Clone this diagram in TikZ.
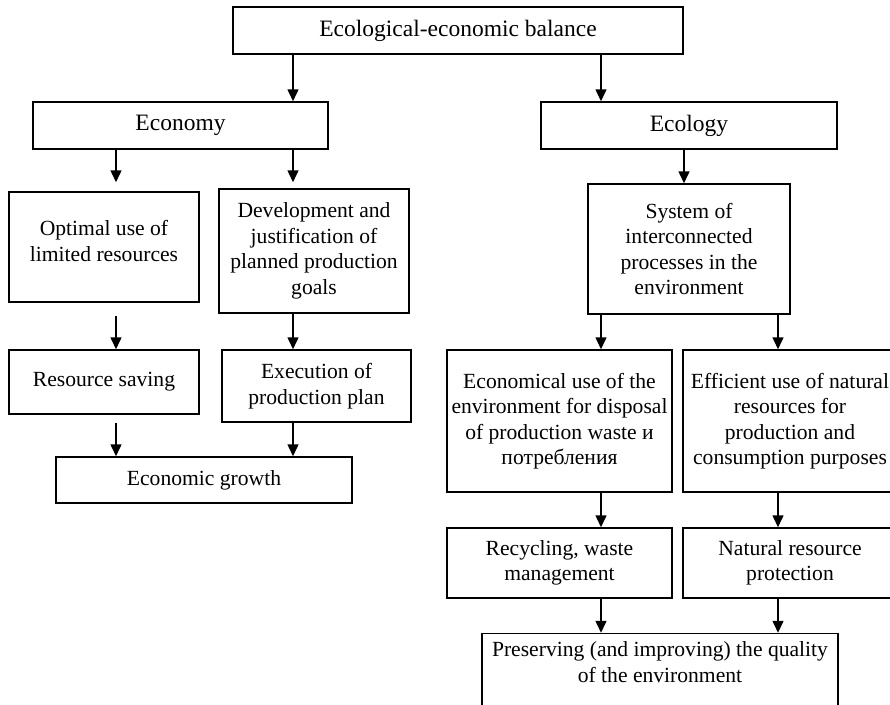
\documentclass[tikz,border=0pt]{standalone}
\usepackage{fontspec}
\setmainfont{Liberation Serif}
\usetikzlibrary{arrows.meta}
\begin{document}
\begin{tikzpicture}[x=1pt,y=-1pt,
  box/.style={draw,line width=1.5pt,align=center,inner sep=2pt,font=\fontsize{21.6}{25.5}\selectfont},
  head/.style={box,minimum height=47pt,font=\fontsize{23.5}{27}\selectfont},
  toptext/.style={anchor=north,align=center,inner sep=0pt,font=\fontsize{21.6}{25.5}\selectfont},
  arr/.style={-{Triangle[length=12pt,width=11pt]},line width=1.5pt}]
\useasboundingbox (0,0) rectangle (890,704);
\clip (0,0) rectangle (890,704);
% top level
\node[head,minimum width=450pt] (balance) at (458,30.5) {Ecological-economic balance};
\node[head,minimum width=295pt] (economy) at (180.5,125.5) {Economy};
\node[head,minimum width=296pt] (ecology) at (689,125.5) {Ecology};
% economy branch
\node[box,minimum width=190pt,minimum height=110pt,label={[toptext,yshift=-29pt]north:{Optimal use of\\limited resources}}] (optimal) at (104,247) {};
\node[box,minimum width=190pt,minimum height=124pt] (planning) at (314,251) {Development and\\justification of\\planned production\\goals};
\node[box,minimum width=190pt,minimum height=64pt] (saving) at (104,382) {Resource saving};
\node[box,minimum width=189pt,minimum height=72pt] (execution) at (316.5,386) {Execution of\\production plan};
\node[box,minimum width=296pt,minimum height=46pt] (growth) at (204,480) {Economic growth};
% ecology branch
\node[box,minimum width=202pt,minimum height=130pt] (system) at (689,249) {System of\\interconnected\\processes in the\\environment};
\node[box,minimum width=225pt,minimum height=142pt] (disposal) at (559.5,421) {Economical use of the\\environment for disposal\\of production waste и\\потребления};
\node[box,minimum width=214pt,minimum height=142pt] (natural) at (790,421) {Efficient use of natural\\resources for\\production and\\consumption purposes};
\node[box,minimum width=225pt,minimum height=70pt] (recycling) at (559.5,563) {Recycling, waste\\management};
\node[box,minimum width=214pt,minimum height=70pt] (protection) at (790,563) {Natural resource\\protection};
\node[box,minimum width=356pt,minimum height=110pt,label={[toptext,yshift=-9pt]north:{Preserving (and improving) the quality\\of the environment}}] (quality) at (660,688.5) {};
% arrows
\draw[arr] (293,0 |- balance.south) -- (293,0 |- economy.north);
\draw[arr] (601,0 |- balance.south) -- (601,0 |- ecology.north);
\draw[arr,shorten >=9pt] (116,0 |- economy.south) -- (116,0 |- optimal.north);
\draw[arr,shorten >=6pt] (293,0 |- economy.south) -- (293,0 |- planning.north);
\draw[arr,shorten <=13pt] (116,0 |- optimal.south) -- (116,0 |- saving.north);
\draw[arr] (293,0 |- planning.south) -- (293,0 |- execution.north);
\draw[arr,shorten <=8pt] (116,0 |- saving.south) -- (116,0 |- growth.north);
\draw[arr] (293,0 |- execution.south) -- (293,0 |- growth.north);
\draw[arr] (684,0 |- ecology.south) -- (684,0 |- system.north);
\draw[arr] (601,0 |- system.south) -- (601,0 |- disposal.north);
\draw[arr] (778,0 |- system.south) -- (778,0 |- natural.north);
\draw[arr] (601,0 |- disposal.south) -- (601,0 |- recycling.north);
\draw[arr] (778,0 |- natural.south) -- (778,0 |- protection.north);
\draw[arr] (601,0 |- recycling.south) -- (601,0 |- quality.north);
\draw[arr] (778,0 |- protection.south) -- (778,0 |- quality.north);
\end{tikzpicture}
\end{document}
